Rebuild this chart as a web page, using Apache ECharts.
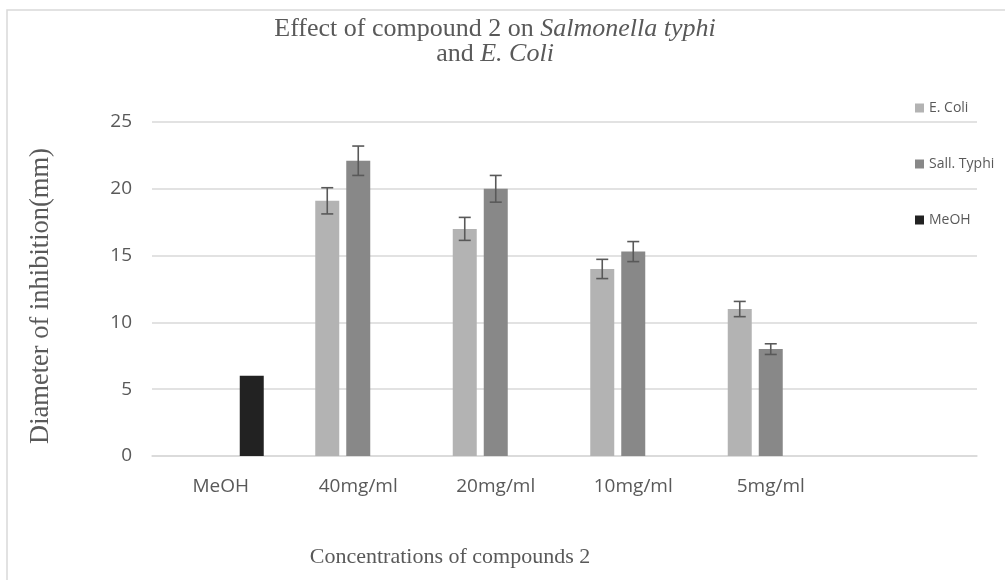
<!DOCTYPE html>
<html>
<head>
<meta charset="utf-8">
<script src="https://cdn.jsdelivr.net/npm/echarts@6/dist/echarts.min.js"></script>
<style>
html,body{margin:0;padding:0;background:#fff;}
#chart{width:1005px;height:580px;}
</style>
</head>
<body>
<div id="chart"></div>
<script>
const categories = ['MeOH', '40mg/ml', '20mg/ml', '10mg/ml', '5mg/ml', ''];
const seriesNames = ['E. Coli', 'Sall. Typhi', 'MeOH'];
const eColi = ['-', 19.1, 17.0, 14.0, 11.0, '-'];
const eColiErr = [null, 0.98, 0.86, 0.72, 0.57, null];
const sallTyphi = ['-', 22.1, 20.0, 15.3, 8.0, '-'];
const sallTyphiErr = [null, 1.1, 1.0, 0.75, 0.4, null];
const meoh = [6.0, '-', '-', '-', '-', '-'];
const yTicks = [0, 5, 10, 15, 20, 25];

const BAR_W = 24, BAR_GAP = 7;
const colors = ['#b3b3b3', '#888888', '#222222'];
const TXT = '#595959';
const SERIF = '"Liberation Serif", "DejaVu Serif", serif';
const SANS = '"Open Sans", "Noto Sans", sans-serif';

function errData(vals, errs) {
  const out = [];
  vals.forEach((v, i) => { if (errs[i] != null && v !== '-') out.push([i, v, errs[i]]); });
  return out;
}
function errSeries(name, vals, errs, seriesIdx) {
  const offset = (seriesIdx - 1) * (BAR_W + BAR_GAP);
  return {
    type: 'custom', name: name + ' err', z: 5, silent: true,
    encode: { x: 0, y: 1 },
    data: errData(vals, errs),
    renderItem: function (params, api) {
      const idx = api.value(0), v = api.value(1), e = api.value(2);
      const top = api.coord([idx, v + e]);
      const bot = api.coord([idx, v - e]);
      const x = top[0] + offset, cap = 6;
      const st = { stroke: '#595959', lineWidth: 1.6 };
      return { type: 'group', children: [
        { type: 'line', shape: { x1: x, y1: top[1], x2: x, y2: bot[1] }, style: st },
        { type: 'line', shape: { x1: x - cap, y1: top[1], x2: x + cap, y2: top[1] }, style: st },
        { type: 'line', shape: { x1: x - cap, y1: bot[1], x2: x + cap, y2: bot[1] }, style: st }
      ]};
    }
  };
}

const titleRich = {
  n: { fontFamily: SERIF, fontSize: 26, fill: TXT },
  i: { fontFamily: SERIF, fontSize: 26, fontStyle: 'italic', fill: TXT }
};

const chart = echarts.init(document.getElementById('chart'), null, { renderer: 'canvas' });
chart.setOption({
  animation: false,
  backgroundColor: '#fff',
  grid: { left: 152, right: 28, top: 122, bottom: 124 },
  legend: {
    data: seriesNames, orient: 'vertical', left: 910, top: 96,
    itemWidth: 9, itemHeight: 9, itemGap: 42, icon: 'rect',
    textStyle: { fontFamily: SANS, fontSize: 14, color: TXT }
  },
  xAxis: {
    type: 'category', data: categories,
    axisLine: { lineStyle: { color: '#d9d9d9', width: 1.5 } },
    axisTick: { show: false },
    axisLabel: { fontFamily: SANS, fontSize: 19, color: TXT, margin: 21, interval: 0 }
  },
  yAxis: {
    type: 'value', min: yTicks[0], max: yTicks[yTicks.length - 1], interval: 5,
    name: 'Diameter of inhibition(mm)', nameLocation: 'middle', nameGap: 97,
    nameTextStyle: { fontFamily: SERIF, fontSize: 26.5, color: TXT, padding: [0, 0, 0, -14] },
    axisLine: { show: false }, axisTick: { show: false },
    axisLabel: { fontFamily: SANS, fontSize: 19, color: TXT, margin: 20 },
    splitLine: { lineStyle: { color: '#d9d9d9', width: 1.5 } }
  },
  graphic: [
    { type: 'rect', shape: { x: 7, y: 10, width: 1200, height: 800 },
      style: { fill: 'none', stroke: '#d9d9d9', lineWidth: 1.5 }, silent: true },
    { type: 'text', x: 495, y: 29, silent: true,
      style: { text: '{n|Effect of compound 2 on }{i|Salmonella typhi}', align: 'center', verticalAlign: 'middle', rich: titleRich } },
    { type: 'text', x: 495, y: 54, silent: true,
      style: { text: '{n|and }{i|E. Coli}', align: 'center', verticalAlign: 'middle', rich: titleRich } },
    { type: 'text', x: 450, y: 557, silent: true,
      style: { text: 'Concentrations of compounds 2', align: 'center', verticalAlign: 'middle',
        fontFamily: SERIF, fontSize: 22, fill: TXT } }
  ],
  series: [
    { name: seriesNames[0], type: 'bar', data: eColi, barWidth: BAR_W, barGap: (BAR_GAP / BAR_W * 100) + '%',
      itemStyle: { color: colors[0] } },
    { name: seriesNames[1], type: 'bar', data: sallTyphi, barWidth: BAR_W, barGap: (BAR_GAP / BAR_W * 100) + '%',
      itemStyle: { color: colors[1] } },
    { name: seriesNames[2], type: 'bar', data: meoh, barWidth: BAR_W, barGap: (BAR_GAP / BAR_W * 100) + '%',
      itemStyle: { color: colors[2] } },
    errSeries(seriesNames[0], eColi, eColiErr, 0),
    errSeries(seriesNames[1], sallTyphi, sallTyphiErr, 1)
  ]
});
</script>
</body>
</html>
